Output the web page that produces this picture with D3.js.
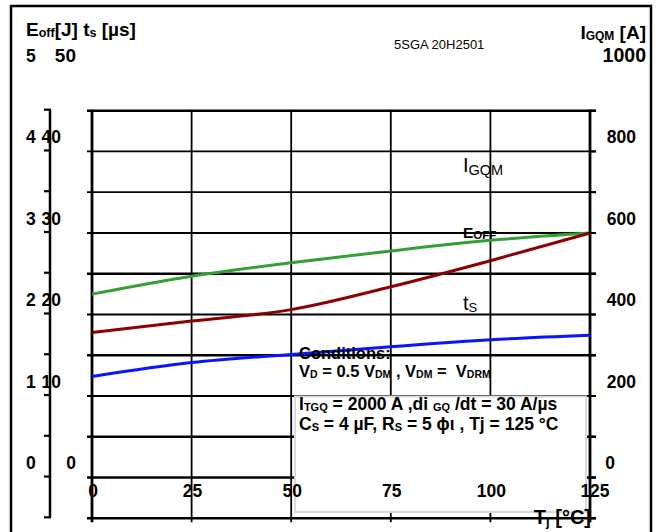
<!DOCTYPE html>
<html>
<head>
<meta charset="utf-8">
<script src="https://cdn.jsdelivr.net/npm/d3@7"></script>
<style>
    html, body { margin: 0; padding: 0; background: #fff; }
    svg { display: block; font-family: "Liberation Sans", Arial, sans-serif; }
    text { white-space: pre; }
</style>
</head>
<body>
<div id="chart"></div>
<script>
// Values
const tempC = [0, 25, 50, 75, 100, 125];
const eoffJ = [2.75, 2.97, 3.135, 3.28, 3.41, 3.5];        // green
const igqmA = [456, 484, 512, 568, 632, 700];              // dark red
const tsUs = [17.4, 19.1, 20.1, 21.05, 21.9, 22.45];       // blue
const xTicks = [0, 25, 50, 75, 100, 125];
const eTicks = [0, 1, 2, 3, 4, 5];
const tsTicks = [0, 10, 20, 30, 40, 50];
const iTicks = [0, 200, 400, 600, 800, 1000];
const gridSteps = [0, 0.5, 1, 1.5, 2, 2.5, 3, 3.5, 4, 4.5, 5];
const conditionLines = [
    [['Conditions:', 0]],
    [['V', 0], ['D', 1], [' = 0.5 V', 0], ['DM', 1], [' , V', 0], ['DM', 1], [' =  V', 0], ['DRM', 1]],
    [['I', 0], ['TGQ', 1], [' = 2000 A ,di ', 0], ['GQ', 1], [' /dt = 30 A/\u00b5s', 0]],
    [['C', 0], ['S', 1], [' = 4 \u00b5F, R', 0], ['S', 1], [' = 5 \u03d5\u03b9 , Tj = 125 \u00b0C', 0]]
];

const size = {width: 661, height: 532};

const svg = d3.select('#chart')
    .append('svg')
    .attr('width', size.width)
    .attr('height', size.height);

// scales: one grid, three units sharing it
const xScale = d3.scaleLinear().domain([0, 125]).range([92, 590]);
const yScale = d3.scaleLinear().domain([0, 5]).range([518.3, 110.7]);
const yTs = yScale.copy().domain([0, 50]);
const yI = yScale.copy().domain([0, 1000]);
// tick labels sit higher than their grid line in the original
const labelY = v => yScale(v) - 49;

// outer frame
svg.append('path')
    .attr('d', 'M11,534V6H651V534')
    .attr('fill', 'none')
    .attr('stroke', '#000')
    .attr('stroke-width', 2.5);

// horizontal grid
const thickGrid = [0, 0.5, 1, 2, 3, 5];
svg.append('g').selectAll('line')
    .data(gridSteps)
    .join('line')
    .attr('x1', 87)
    .attr('x2', 596)
    .attr('y1', d => yScale(d))
    .attr('y2', d => yScale(d))
    .attr('stroke', '#000')
    .attr('stroke-width', d => thickGrid.includes(d) ? 2.6 : 1.8);

// vertical grid
svg.append('g').selectAll('line')
    .data(xTicks)
    .join('line')
    .attr('x1', d => xScale(d))
    .attr('x2', d => xScale(d))
    .attr('y1', yScale(5) - 1)
    .attr('y2', yScale(0) + 4)
    .attr('stroke', '#000')
    .attr('stroke-width', d => (d === 0 || d === 125) ? 2.8 : 1.8);

// left axis bracket with ticks
const leftAxis = svg.append('g');
leftAxis.append('line')
    .attr('x1', 50).attr('x2', 50)
    .attr('y1', yScale(5) - 1).attr('y2', yScale(0) - 1)
    .attr('stroke', '#000').attr('stroke-width', 2.5);
leftAxis.selectAll('.tick')
    .data(gridSteps)
    .join('line')
    .attr('class', 'tick')
    .attr('x1', 44).attr('x2', 51)
    .attr('y1', d => yScale(d) - 1)
    .attr('y2', d => yScale(d) - 1)
    .attr('stroke', '#000')
    .attr('stroke-width', 2.2);

// conditions box
svg.append('rect')
    .attr('x', 295).attr('y', 396.5)
    .attr('width', 291).attr('height', 115.5)
    .attr('fill', '#fff')
    .attr('stroke', '#dadada')
    .attr('stroke-width', 2);

// curves
const line = (yS) => d3.line()
    .x((d, i) => xScale(tempC[i]))
    .y(d => yS(d))
    .curve(d3.curveMonotoneX);

const series = [
    {values: eoffJ, scale: yScale, color: '#33a033'},
    {values: igqmA, scale: yI, color: '#8c0000'},
    {values: tsUs, scale: yTs, color: '#0a14ff'}
];
svg.append('g').selectAll('path')
    .data(series)
    .join('path')
    .attr('d', d => line(d.scale)(d.values))
    .attr('fill', 'none')
    .attr('stroke', d => d.color)
    .attr('stroke-width', 3);

// helper for text with subscripts
function richText(parent, x, y, parts, opts) {
    const t = parent.append('text')
        .attr('x', x).attr('y', y)
        .attr('font-size', opts.size)
        .attr('font-weight', opts.weight || 'bold')
        .attr('text-anchor', opts.anchor || 'start');
    let sub = 0;
    parts.forEach(p => {
        const ts = t.append('tspan').text(p[0]);
        const want = p[1] ? (opts.subDy || 2) : 0;
        if (want !== sub) ts.attr('dy', want - sub);
        sub = want;
        if (p[1]) ts.attr('font-size', opts.subSize);
    });
    return t;
}

const labels = svg.append('g').attr('fill', '#000');

// header
richText(labels, 26, 36, [['E', 0], ['off', 1], ['[J] t', 0], ['s', 1], [' [\u00b5s]', 0]],
    {size: 19, subSize: 12.5, subDy: 1});
richText(labels, 646, 39, [['I', 0], ['GQM', 1], [' [A]', 0]],
    {size: 19, subSize: 12, subDy: 1, anchor: 'end'});
labels.append('text')
    .attr('x', 394).attr('y', 49)
    .attr('font-size', 13)
    .text('5SGA 20H2501');

// left tick labels
labels.selectAll('.eLabel')
    .data(eTicks)
    .join('text')
    .attr('class', 'eLabel')
    .attr('x', 26)
    .attr('y', d => labelY(d))
    .attr('font-size', 17.5)
    .attr('font-weight', 'bold')
    .text(d => d);
labels.selectAll('.tsLabel')
    .data(tsTicks)
    .join('text')
    .attr('class', 'tsLabel')
    .attr('x', d => (d === 0 || d === 50) ? 76 : 61)
    .attr('y', d => labelY(d / 10))
    .attr('text-anchor', 'end')
    .attr('font-size', d => d === 50 ? 19 : 17.5)
    .attr('font-weight', 'bold')
    .text(d => d);

// right tick labels
labels.selectAll('.iLabel')
    .data(iTicks)
    .join('text')
    .attr('class', 'iLabel')
    .attr('x', d => d === 1000 ? 646 : (d === 0 ? 615 : 636))
    .attr('y', d => labelY(d / 200))
    .attr('text-anchor', 'end')
    .attr('font-size', d => d === 1000 ? 19.5 : 17.5)
    .attr('font-weight', 'bold')
    .text(d => d);

// right axis ticks
svg.append('g').selectAll('line')
    .data(gridSteps)
    .join('line')
    .attr('x1', 589).attr('x2', 596)
    .attr('y1', d => yScale(d))
    .attr('y2', d => yScale(d))
    .attr('stroke', '#000')
    .attr('stroke-width', 2);

// x tick labels
labels.selectAll('.xLabel')
    .data(xTicks)
    .join('text')
    .attr('class', 'xLabel')
    .attr('x', d => xScale(d) + (d === 125 ? 5 : 1))
    .attr('y', 497)
    .attr('text-anchor', 'middle')
    .attr('font-size', 17.5)
    .attr('font-weight', 'bold')
    .text(d => d);

richText(labels, 591, 524, [['T', 0], ['j', 1], [' [\u00b0C]', 0]],
    {size: 20, subSize: 13, subDy: 2, anchor: 'end'});

// curve labels
richText(labels, 463, 172, [['I', 0], ['GQM', 1]],
    {size: 20, subSize: 14.5, subDy: 3, weight: 'normal'});
richText(labels, 463, 238, [['E', 0], ['OFF', 1]],
    {size: 15.5, subSize: 11.5, subDy: 1});
richText(labels, 463, 310, [['t', 0], ['S', 1]],
    {size: 20, subSize: 13, subDy: 2, weight: 'normal'});

// conditions text
const condY = [359, 377, 410, 430];
conditionLines.forEach((parts, i) => {
    richText(labels, 299, condY[i], parts,
        {size: i < 2 ? 16.5 : 17.5, subSize: i < 2 ? 10.5 : 11, subDy: 1});
});
</script>
</body>
</html>
